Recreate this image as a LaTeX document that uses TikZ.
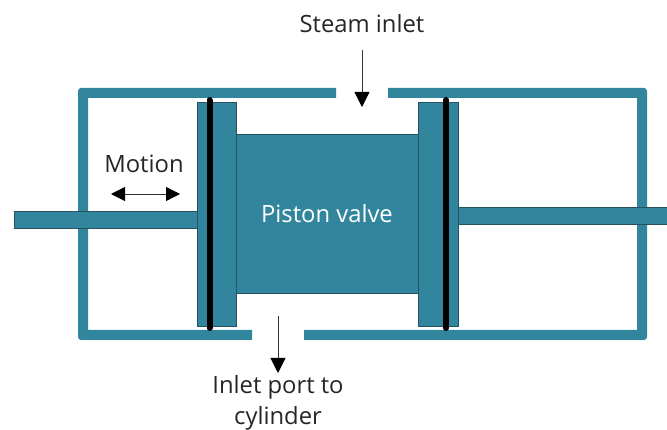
\documentclass[tikz,border=0pt]{standalone}
\usepackage{fontspec}
\setmainfont{Open Sans}
\usetikzlibrary{arrows.meta}
\definecolor{valveteal}{HTML}{31859C}
\definecolor{valveedge}{HTML}{24525F}
\tikzset{
  wall/.style={fill=valveteal},
  part/.style={draw=valveedge, line width=0.8pt, fill=valveteal, inner sep=0pt, outer sep=0pt},
  seal/.style={draw=black, line width=6pt, line cap=round},
  flow/.style={draw=black!80, line width=0.8pt, -{Triangle[width=15pt, length=15pt, color=black]}},
  motionarrow/.style={draw=black!80, line width=0.8pt,
    {Triangle[width=14pt, length=14pt, color=black]}-{Triangle[width=14pt, length=14pt, color=black]}},
  label/.style={font=\fontsize{23.8pt}{28pt}\selectfont, text=black!85, inner sep=0pt}
}
\begin{document}
\begin{tikzpicture}[x=1pt, y=-1pt]
    \useasboundingbox (0, 0) rectangle (667, 430);

    % cylinder walls
    \fill[wall] (336, 88) [rounded corners=3pt] -- (78, 88) -- (78, 340) [sharp corners] -- (252, 340)
      -- (252, 330) -- (88, 330) -- (88, 98) -- (336, 98) -- cycle;
    \fill[wall] (388, 88) [rounded corners=3pt] -- (647, 88) -- (647, 340) [sharp corners] -- (304, 340)
      -- (304, 330) -- (637, 330) -- (637, 98) -- (388, 98) -- cycle;

    % rods
    \node[part, minimum width=183.5pt, minimum height=17pt] (leftrod)  at (105.75, 219.5) {};
    \node[part, minimum width=210pt,   minimum height=17pt] (rightrod) at (563, 215.5) {};

    % piston
    \node[part, minimum width=182pt, minimum height=159pt, text=white,
          font=\fontsize{23.8pt}{28pt}\selectfont] (body) at (327, 213.5) {Piston valve};
    \node[part, minimum width=39pt, minimum height=224pt] (leftflange)  at (217, 214) {};
    \node[part, minimum width=40pt, minimum height=224pt] (rightflange) at (438, 214) {};

    % seals
    \coordinate (leftsealtop)  at (209.5, 100);
    \coordinate (leftsealend)  at (209.5, 328);
    \coordinate (rightsealtop) at (446, 100);
    \coordinate (rightsealend) at (446, 328);
    \draw[seal] (leftsealtop)  -- (leftsealend);
    \draw[seal] (rightsealtop) -- (rightsealend);

    % labels
    \node[label] (steam)  at (362, 24)  {Steam inlet};
    \node[label] (motion) at (144, 164) {Motion};
    \node[label, align=center, font=\fontsize{23.8pt}{31pt}\selectfont] (port) at (278, 403) {Inlet port to\\cylinder};

    % arrows
    \coordinate (steamstart) at (362, 50);
    \coordinate (steamend)   at (362, 107);
    \coordinate (portstart)  at (278, 316);
    \coordinate (portend)    at (278, 373);
    \coordinate (motionleft)  at (111, 194);
    \coordinate (motionright) at (180, 194);
    \draw[flow] (steamstart) -- (steamend);
    \draw[flow] (portstart)  -- (portend);
    \draw[motionarrow] (motionleft) -- (motionright);
  \end{tikzpicture}
\end{document}
